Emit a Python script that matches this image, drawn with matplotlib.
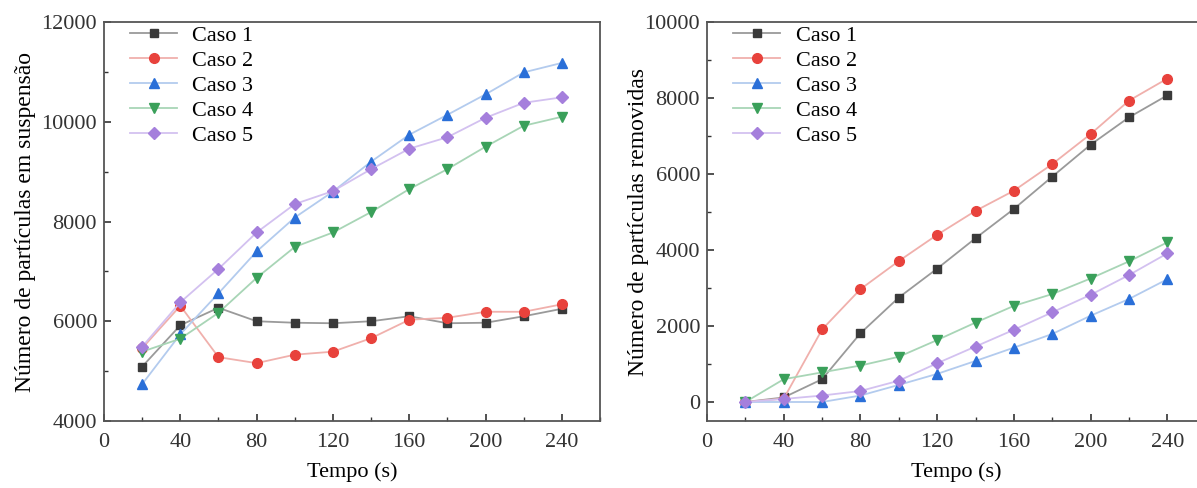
import matplotlib.pyplot as plt
from matplotlib.ticker import MultipleLocator

plt.rcParams['font.family'] = ['Liberation Serif', 'DejaVu Serif']

tempo = [20, 40, 60, 80, 100, 120, 140, 160, 180, 200, 220, 240]
casos = ["Caso 1", "Caso 2", "Caso 3", "Caso 4", "Caso 5"]

# particulas em suspensao
susp_1 = [5090, 5920, 6270, 6000, 5970, 5960, 6000, 6100, 5960, 5970, 6100, 6250]
susp_2 = [5460, 6310, 5280, 5160, 5330, 5390, 5660, 6030, 6070, 6190, 6190, 6340]
susp_3 = [4740, 5740, 6560, 7400, 8080, 8600, 9200, 9740, 10140, 10550, 10990, 11180]
susp_4 = [5390, 5650, 6170, 6870, 7490, 7780, 8190, 8650, 9050, 9500, 9920, 10100]
susp_5 = [5490, 6380, 7050, 7780, 8350, 8610, 9050, 9460, 9690, 10080, 10380, 10490]

# particulas removidas
rem_1 = [0, 120, 600, 1810, 2750, 3510, 4310, 5080, 5930, 6770, 7490, 8070]
rem_2 = [0, 90, 1910, 2970, 3710, 4400, 5030, 5560, 6260, 7050, 7930, 8510]
rem_3 = [0, 0, 0, 170, 450, 740, 1080, 1430, 1790, 2270, 2710, 3230]
rem_4 = [0, 600, 780, 960, 1190, 1630, 2090, 2530, 2840, 3250, 3700, 4200]
rem_5 = [0, 80, 170, 290, 560, 1020, 1460, 1900, 2360, 2820, 3340, 3910]

markers = ['s', 'o', '^', 'v', 'D']
mcolors = ['#3a3a3a', '#e8423c', '#2a6fd8', '#3aa05a', '#a57fdc']
lcolors = ['#9a9a9a', '#f0b0ac', '#b3cbee', '#a8d5b6', '#d3c1f0']
msizes = [6, 7, 7.5, 7.5, 6.5]

fig = plt.figure(figsize=(11.97, 4.88), dpi=100)
ax1 = fig.add_axes([0.0869, 0.1373, 0.4144, 0.8176])
ax2 = fig.add_axes([0.5907, 0.1373, 0.4165, 0.8176])

for ax, series, ylabel, ylim, lpad in [
        (ax1, [susp_1, susp_2, susp_3, susp_4, susp_5],
         "Número de partículas em suspensão", (4000, 12000), 4),
        (ax2, [rem_1, rem_2, rem_3, rem_4, rem_5],
         "Número de partículas removidas", (-500, 10000), -3)]:
    for i, vals in enumerate(series):
        ax.plot(tempo, vals, color=lcolors[i], lw=1.3, marker=markers[i],
                markersize=msizes[i], markerfacecolor=mcolors[i],
                markeredgecolor=mcolors[i], label=casos[i])
    ax.set_xlim(0, 260)
    ax.set_ylim(*ylim)
    ax.xaxis.set_major_locator(MultipleLocator(40))
    ax.xaxis.set_minor_locator(MultipleLocator(20))
    ax.yaxis.set_major_locator(MultipleLocator(2000))
    ax.yaxis.set_minor_locator(MultipleLocator(1000))
    ax.tick_params(which='both', direction='in', labelsize=16, colors='#333333')
    ax.tick_params(which='major', length=5, width=1.2)
    ax.tick_params(which='minor', length=3, width=1.0)
    ax.tick_params(axis='x', pad=9)
    ax.tick_params(axis='y', pad=5)
    for s in ax.spines.values():
        s.set_color('#555555')
        s.set_linewidth(1.3)
    ax.set_xlabel("Tempo (s)", fontsize=16, labelpad=7)
    ax.set_ylabel(ylabel, fontsize=17, labelpad=lpad)
    ax.legend(loc='upper left', frameon=False, fontsize=16, labelspacing=0.2,
              handlelength=2.1, handletextpad=0.7, borderaxespad=0.0,
              bbox_to_anchor=(0.035, 1.013))

ax2.set_yticks([0, 2000, 4000, 6000, 8000, 10000])
ax2.spines['right'].set_visible(False)

fig.savefig("out.png", dpi=100)
